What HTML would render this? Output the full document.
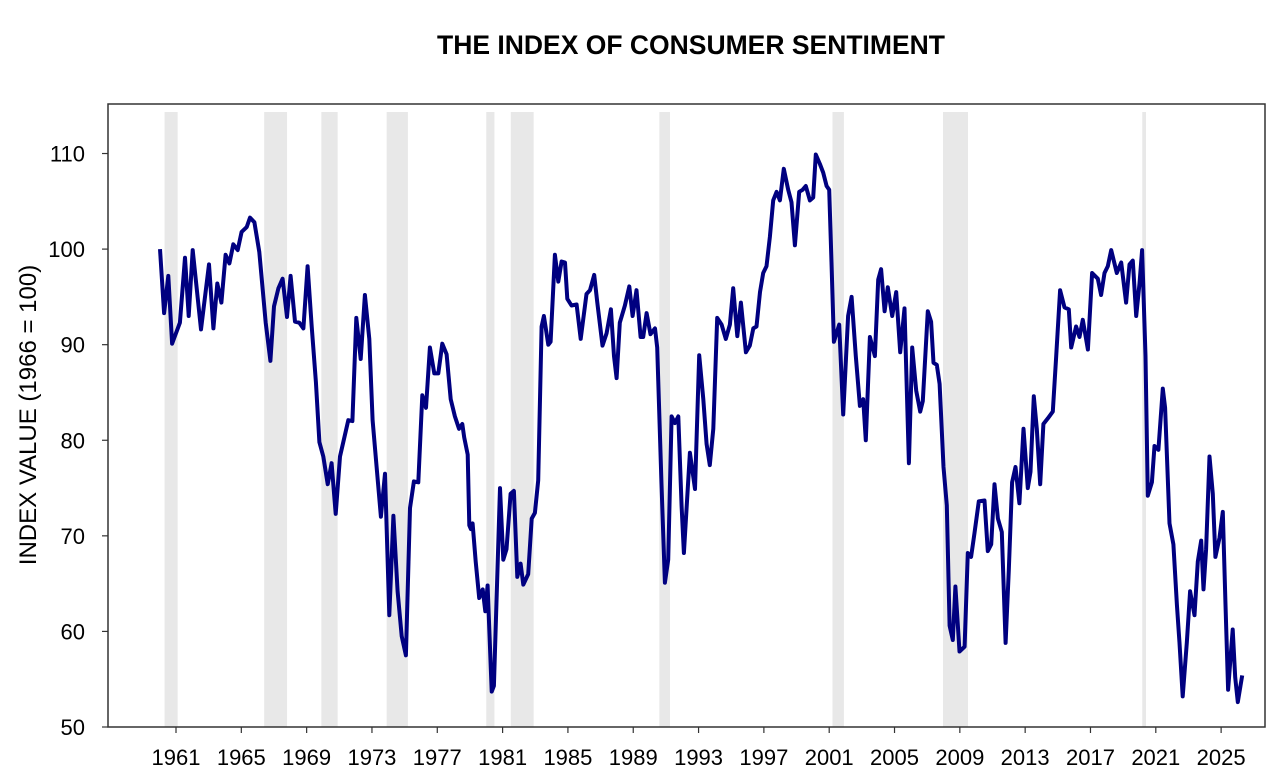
<!DOCTYPE html>
<html><head><meta charset="utf-8"><style>
body{margin:0;background:#fff;}
svg{display:block;font-family:"Liberation Sans",Arial,sans-serif;}
</style></head><body>
<svg id="chart" width="1282" height="784">
<text x="691" y="54" text-anchor="middle" font-size="26.5" font-weight="bold">THE INDEX OF CONSUMER SENTIMENT</text>
<text transform="translate(36,415) rotate(-90)" text-anchor="middle" font-size="24">INDEX VALUE (1966 = 100)</text>
<g id="bands"></g><g id="axes"></g><g id="series"></g>
</svg>
<script>
const years=[1960.02,1960.27,1960.53,1960.76,1961.24,1961.55,1961.78,1962.02,1962.53,1963.02,1963.29,1963.53,1963.78,1964.04,1964.27,1964.51,1964.78,1965.02,1965.33,1965.53,1965.8,1966.1,1966.49,1966.78,1967.0,1967.27,1967.53,1967.8,1968.02,1968.29,1968.55,1968.8,1969.06,1969.31,1969.57,1969.78,1970.02,1970.29,1970.53,1970.78,1971.04,1971.55,1971.8,1972.04,1972.31,1972.57,1972.84,1973.04,1973.29,1973.55,1973.8,1974.06,1974.31,1974.57,1974.82,1975.08,1975.33,1975.57,1975.84,1976.08,1976.31,1976.55,1976.82,1977.06,1977.31,1977.57,1977.82,1978.08,1978.33,1978.53,1978.65,1978.86,1978.96,1979.06,1979.16,1979.35,1979.57,1979.78,1979.94,1980.08,1980.33,1980.47,1980.84,1981.04,1981.24,1981.49,1981.69,1981.9,1982.1,1982.27,1982.57,1982.78,1982.98,1983.18,1983.39,1983.53,1983.8,1983.94,1984.2,1984.41,1984.61,1984.82,1984.96,1985.22,1985.53,1985.78,1986.14,1986.35,1986.61,1986.8,1987.12,1987.37,1987.63,1987.82,1987.98,1988.18,1988.49,1988.76,1988.96,1989.2,1989.45,1989.61,1989.82,1990.06,1990.33,1990.47,1990.73,1990.94,1991.14,1991.35,1991.55,1991.76,1991.96,1992.1,1992.47,1992.78,1993.04,1993.29,1993.49,1993.69,1993.9,1994.14,1994.41,1994.67,1994.92,1995.12,1995.37,1995.59,1995.9,1996.14,1996.35,1996.55,1996.76,1996.96,1997.16,1997.37,1997.57,1997.78,1997.98,1998.22,1998.49,1998.69,1998.9,1999.16,1999.37,1999.57,1999.82,2000.02,2000.18,2000.43,2000.63,2000.84,2001.0,2001.14,2001.29,2001.61,2001.86,2002.16,2002.37,2002.63,2002.88,2003.08,2003.24,2003.49,2003.8,2004.0,2004.18,2004.39,2004.59,2004.86,2005.1,2005.35,2005.61,2005.88,2006.08,2006.33,2006.57,2006.73,2007.04,2007.24,2007.39,2007.59,2007.76,2008.0,2008.2,2008.37,2008.57,2008.73,2008.98,2009.29,2009.49,2009.69,2009.9,2010.16,2010.51,2010.71,2010.92,2011.12,2011.33,2011.57,2011.8,2012.0,2012.2,2012.41,2012.65,2012.9,2013.16,2013.33,2013.53,2013.71,2013.92,2014.12,2014.39,2014.69,2014.9,2015.14,2015.41,2015.67,2015.82,2016.12,2016.33,2016.53,2016.84,2017.1,2017.45,2017.65,2017.86,2018.06,2018.27,2018.61,2018.88,2019.18,2019.39,2019.59,2019.8,2020.0,2020.16,2020.37,2020.51,2020.76,2020.92,2021.16,2021.43,2021.57,2021.84,2022.08,2022.29,2022.45,2022.65,2022.9,2023.1,2023.37,2023.57,2023.78,2023.92,2024.08,2024.29,2024.49,2024.65,2024.9,2025.1,2025.27,2025.43,2025.71,2025.86,2026.02,2026.29];
const values=[100,93.3,97.2,90.1,92.3,99.1,93.0,99.9,91.6,98.4,91.7,96.4,94.4,99.4,98.5,100.5,99.9,101.8,102.3,103.3,102.8,99.7,92.3,88.3,94.0,95.9,96.9,92.9,97.2,92.4,92.3,91.7,98.2,91.9,86.1,79.8,78.3,75.4,77.6,72.3,78.3,82.1,82.0,92.8,88.5,95.2,90.6,82.1,77.1,72.0,76.5,61.7,72.1,64.2,59.5,57.5,72.9,75.7,75.6,84.7,83.4,89.7,87.0,87.0,90.1,89.0,84.3,82.5,81.2,81.7,80.3,78.5,71.1,70.7,71.3,67.3,63.5,64.4,62.1,64.8,53.7,54.3,75.0,67.5,68.6,74.4,74.7,65.7,67.1,64.9,66.0,71.8,72.4,75.8,91.9,93.0,90.0,90.3,99.4,96.6,98.7,98.6,94.8,94.1,94.2,90.6,95.3,95.7,97.3,94.4,89.9,91.2,93.7,88.8,86.5,92.3,94.1,96.1,93.0,95.7,90.8,90.8,93.3,91.1,91.7,89.7,75.4,65.1,67.5,82.5,81.8,82.5,73.1,68.2,78.7,74.9,88.9,84.3,79.6,77.4,81.2,92.8,92.1,90.6,92.1,95.9,90.9,94.4,89.2,89.9,91.7,91.9,95.5,97.5,98.2,101.3,105.1,106.0,105.1,108.4,106.2,104.9,100.4,106.0,106.2,106.6,105.1,105.4,109.9,108.9,108.0,106.6,106.2,98.6,90.3,92.1,82.7,93.0,95.0,88.8,83.6,84.3,80.0,90.8,88.8,96.8,97.9,93.5,96.0,93.0,95.5,89.2,93.8,77.6,89.7,85.2,83.0,84.1,93.5,92.4,88.1,87.9,85.9,77.2,73.2,60.6,59.1,64.7,57.9,58.4,68.2,67.8,70.3,73.6,73.7,68.4,69.1,75.4,71.8,70.4,58.8,66.4,75.6,77.2,73.4,81.2,75.0,76.7,84.6,81.2,75.4,81.7,82.3,83.0,88.8,95.7,93.9,93.7,89.7,91.9,90.8,92.6,89.5,97.5,96.9,95.2,97.5,98.2,99.9,97.5,98.6,94.4,98.4,98.8,93.0,96.4,99.9,88.8,74.2,75.6,79.4,79.0,85.4,83.4,71.3,69.1,62.8,58.8,53.2,58.8,64.2,61.7,67.3,69.5,64.4,68.6,78.3,74.4,67.8,69.8,72.5,62.8,53.9,60.2,55.2,52.6,55.4];
const recessionStarts=[1960.3,1966.4,1969.9,1973.9,1980.0,1981.5,1990.6,2001.2,2007.97,2020.17];
const recessionEnds=[1961.1,1967.8,1970.9,1975.2,1980.5,1982.9,1991.25,2001.9,2009.5,2020.4];
const yTicks=[50,60,70,80,90,100,110];
const xTickYears=[1961,1965,1969,1973,1977,1981,1985,1989,1993,1997,2001,2005,2009,2013,2017,2021,2025];

const NS="http://www.w3.org/2000/svg";
const L=108,R=1265,T=104,B=727;
const xS=y=>176+(y-1961)*16.33;
const yS=v=>727-(v-50)*9.558;
function mk(tag,attrs,parent){const e=document.createElementNS(NS,tag);for(const k in attrs)e.setAttribute(k,attrs[k]);parent.appendChild(e);return e;}
const bands=document.getElementById('bands'),axes=document.getElementById('axes'),series=document.getElementById('series');
recessionStarts.forEach((s,i)=>{
  const r=mk('rect',{x:xS(s),y:112,width:xS(recessionEnds[i])-xS(s),height:B-112,fill:'#e8e8e8'},bands);
  
  
});
const fr=mk('rect',{x:L,y:T,width:R-L,height:B-T,fill:'none',stroke:'#333',"stroke-width":1.5},axes);


yTicks.forEach(v=>{
  const t=mk('line',{x1:L-6,x2:L,y1:yS(v),y2:yS(v),stroke:'#333',"stroke-width":1.2},axes);
  
  
  const lb=mk('text',{x:L-23,y:yS(v)+8,"text-anchor":'end',"font-size":22},axes);
  lb.textContent=v;
  
  
});
xTickYears.forEach(y=>{
  const t=mk('line',{x1:xS(y),x2:xS(y),y1:B,y2:B+6,stroke:'#333',"stroke-width":1.2},axes);
  
  
  const lb=mk('text',{x:xS(y),y:B+38,"text-anchor":'middle',"font-size":22},axes);
  lb.textContent=y;
  
  
});
const d=years.map((y,i)=>(i?'L':'M')+xS(y).toFixed(1)+','+yS(values[i]).toFixed(1)).join(' ');
const p=mk('path',{d:d,fill:'none',stroke:'#000080',"stroke-width":4,"stroke-linejoin":'round'},series);


</script>
</body></html>
